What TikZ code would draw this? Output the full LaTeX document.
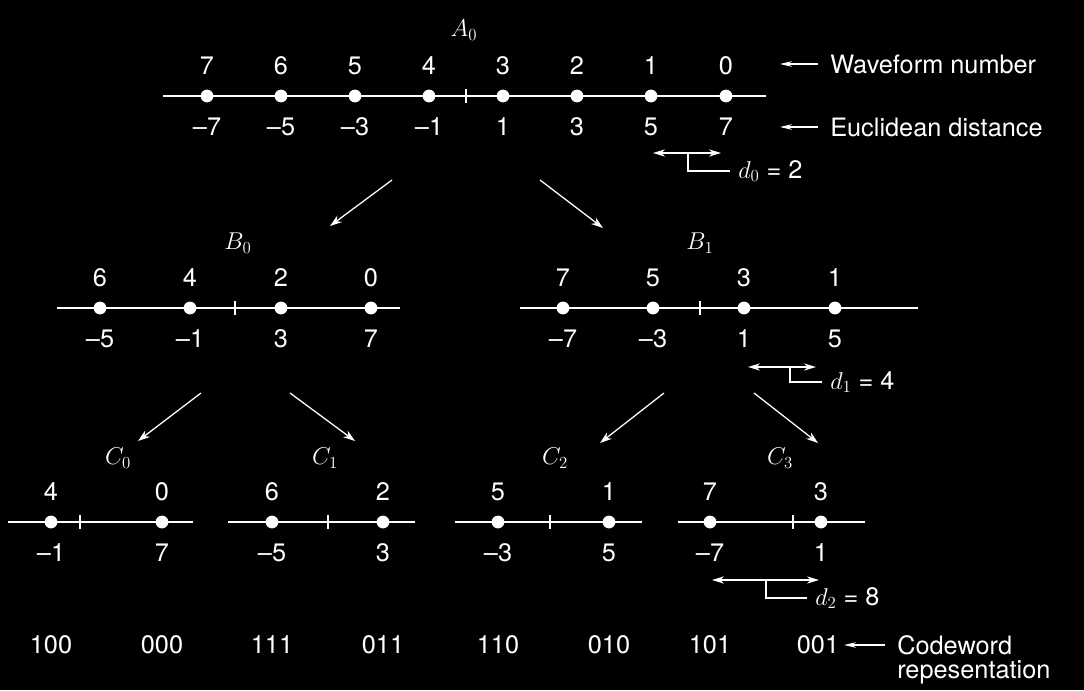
\documentclass[tikz,border=0pt]{standalone}
\usepackage{fontspec}
\setmainfont{TeX Gyre Heros}
\usetikzlibrary{arrows.meta}
\tikzstyle{Axis}=[draw=white, line width=2pt]
\tikzstyle{Tick}=[draw=white, line width=0.8pt]
\tikzstyle{Pt}=[circle, fill=white, inner sep=0pt, minimum size=0.32cm]
\tikzstyle{Name}=[text=white, font=\fontsize{18}{21}\selectfont]
\tikzstyle{Note}=[text=white, font=\fontsize{18}{21}\selectfont, inner sep=0pt]
\tikzstyle{Branch}=[draw=white, line width=0.9pt, -{Stealth[length=0.3cm, width=0.2cm]}]
\tikzstyle{Pointer}=[draw=white, line width=0.9pt, -{Stealth[length=0.3cm, width=0.14cm]}]
\tikzstyle{Span}=[draw=white, line width=1.3pt, {Stealth[length=0.3cm, width=0.18cm]}-{Stealth[length=0.3cm, width=0.18cm]}]
\tikzstyle{Bracket}=[draw=white, line width=1.3pt]

\begin{document}
\begin{tikzpicture}[x=0.025cm, y=0.025cm,
  every label/.style={text=white, inner sep=1pt, font=\fontsize{18}{21}\selectfont},
  label distance=0.33cm]
\fill[black] (0,0) rectangle (1084,-690);

% level A
\node[Name](A0) at (464,-30) {$A_0$};
\draw[Axis] (163,-96) -- (766,-96);
\draw[Tick] (466,-89) -- (466,-103);
\node[Pt, label={above:7}, label={below:--7}](a7) at (207,-96) {};
\node[Pt, label={above:6}, label={below:--5}](a6) at (281,-96) {};
\node[Pt, label={above:5}, label={below:--3}](a5) at (355,-96) {};
\node[Pt, label={above:4}, label={below:--1}](a4) at (429,-96) {};
\node[Pt, label={above:3}, label={below:1}](a3) at (503,-96) {};
\node[Pt, label={above:2}, label={below:3}](a2) at (577,-96) {};
\node[Pt, label={above:1}, label={below:5}](a1) at (651,-96) {};
\node[Pt, label={above:0}, label={below:7}](a0) at (726,-96) {};

\node[Note, anchor=west](WaveNote) at (830,-64) {Waveform number};
\coordinate (waveTail) at (818,-64);
\coordinate (waveHead) at (780,-64);
\draw[Pointer](waveTail) -- (waveHead);
\node[Note, anchor=west](DistNote) at (830,-127) {Euclidean distance};
\coordinate (distTail) at (818,-127);
\coordinate (distHead) at (780,-127);
\draw[Pointer](distTail) -- (distHead);

\coordinate (d0L) at (653,-153);
\coordinate (d0R) at (721,-153);
\coordinate (d0M) at (688,-153);
\node[Note, anchor=west](d0) at (738,-171) {$d_0$ = 2};
\draw[Span](d0L) -- (d0R);
\draw[Bracket](d0M) |- ([xshift=-0.2cm]d0.west);

% branches A -> B
\coordinate (ab0s) at (392,-180);
\coordinate (ab0e) at (330,-226);
\coordinate (ab1s) at (540,-180);
\coordinate (ab1e) at (603,-228);
\draw[Branch](ab0s) -- (ab0e);
\draw[Branch](ab1s) -- (ab1e);

% level B
\node[Name](B0) at (238,-243) {$B_0$};
\draw[Axis] (57,-308) -- (400,-308);
\draw[Tick] (235,-301) -- (235,-315);
\node[Pt, label={above:6}, label={below:--5}](b6) at (100,-308) {};
\node[Pt, label={above:4}, label={below:--1}](b4) at (190,-308) {};
\node[Pt, label={above:2}, label={below:3}](b2) at (281,-308) {};
\node[Pt, label={above:0}, label={below:7}](b0) at (371,-308) {};

\node[Name](B1) at (700,-243) {$B_1$};
\draw[Axis] (520,-308) -- (918,-308);
\draw[Tick] (700,-301) -- (700,-315);
\node[Pt, label={above:7}, label={below:--7}](b7) at (563,-308) {};
\node[Pt, label={above:5}, label={below:--3}](b5) at (653,-308) {};
\node[Pt, label={above:3}, label={below:1}](b3) at (744,-308) {};
\node[Pt, label={above:1}, label={below:5}](b1) at (835,-308) {};

\coordinate (d1L) at (748,-367);
\coordinate (d1R) at (816,-367);
\coordinate (d1M) at (790,-367);
\node[Note, anchor=west](d1) at (830,-382) {$d_1$ = 4};
\draw[Span](d1L) -- (d1R);
\draw[Bracket](d1M) |- ([xshift=-0.2cm]d1.west);

% branches B -> C
\coordinate (bc0s) at (201,-393);
\coordinate (bc0e) at (138,-441);
\coordinate (bc1s) at (290,-393);
\coordinate (bc1e) at (355,-441);
\coordinate (bc2s) at (664,-393);
\coordinate (bc2e) at (600,-443);
\coordinate (bc3s) at (754,-393);
\coordinate (bc3e) at (818,-443);
\draw[Branch](bc0s) -- (bc0e);
\draw[Branch](bc1s) -- (bc1e);
\draw[Branch](bc2s) -- (bc2e);
\draw[Branch](bc3s) -- (bc3e);

% level C
\node[Name](C0) at (118,-458) {$C_0$};
\draw[Axis] (8,-522) -- (193,-522);
\draw[Tick] (80,-515) -- (80,-529);
\node[Pt, label={above:4}, label={below:--1}](c4) at (51,-522) {};
\node[Pt, label={above:0}, label={below:7}](c0) at (162,-522) {};

\node[Name](C1) at (325,-458) {$C_1$};
\draw[Axis] (228,-522) -- (415,-522);
\draw[Tick] (328,-515) -- (328,-529);
\node[Pt, label={above:6}, label={below:--5}](c6) at (272,-522) {};
\node[Pt, label={above:2}, label={below:3}](c2) at (383,-522) {};

\node[Name](C2) at (555,-458) {$C_2$};
\draw[Axis] (455,-522) -- (642,-522);
\draw[Tick] (550,-515) -- (550,-529);
\node[Pt, label={above:5}, label={below:--3}](c5) at (498,-522) {};
\node[Pt, label={above:1}, label={below:5}](c1) at (609,-522) {};

\node[Name](C3) at (780,-458) {$C_3$};
\draw[Axis] (678,-522) -- (865,-522);
\draw[Tick] (793,-515) -- (793,-529);
\node[Pt, label={above:7}, label={below:--7}](c7) at (710,-522) {};
\node[Pt, label={above:3}, label={below:1}](c3) at (821,-522) {};

\coordinate (d2L) at (712,-580);
\coordinate (d2R) at (819,-580);
\coordinate (d2M) at (766,-580);
\node[Note, anchor=west](d2) at (815,-598) {$d_2$ = 8};
\draw[Span](d2L) -- (d2R);
\draw[Bracket](d2M) |- ([xshift=-0.2cm]d2.west);

% codewords
\node[Name](w100) at (51,-645) {100};
\node[Name](w000) at (162,-645) {000};
\node[Name](w111) at (272,-645) {111};
\node[Name](w011) at (383,-645) {011};
\node[Name](w110) at (498,-645) {110};
\node[Name](w010) at (609,-645) {010};
\node[Name](w101) at (710,-645) {101};
\node[Name](w001) at (818,-645) {001};
\node[Note, anchor=west](CodeNote) at (897,-645) {Codeword};
\node[Note, anchor=west] at (897,-672) {repesentation};
\coordinate (codeTail) at (885,-645);
\draw[Pointer](codeTail) -- (w001.east);
\end{tikzpicture}
\end{document}
